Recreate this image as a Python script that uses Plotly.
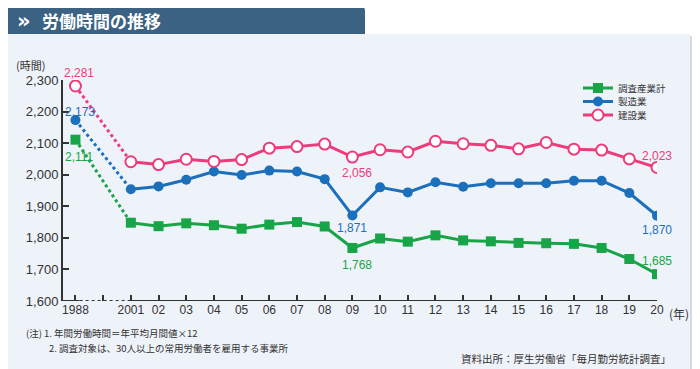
import plotly.graph_objects as go

# ---- data ----
years = ['1988', '2001', '02', '03', '04', '05', '06', '07', '08', '09', '10',
         '11', '12', '13', '14', '15', '16', '17', '18', '19', '20']
tick_labels = ['1988', ''] + years[1:]
total = [2111, 1848, 1837, 1846, 1840, 1829, 1842, 1850, 1836, 1768, 1798,
         1788, 1808, 1792, 1789, 1784, 1783, 1781, 1768, 1733, 1685]
manufacturing = [2173, 1954, 1963, 1984, 2010, 1999, 2013, 2010, 1986, 1871, 1960,
                 1944, 1976, 1962, 1973, 1973, 1973, 1981, 1981, 1942, 1870]
construction = [2281, 2041, 2032, 2049, 2042, 2048, 2084, 2089, 2097, 2056, 2079,
                2072, 2106, 2098, 2093, 2082, 2102, 2081, 2078, 2050, 2023]
names = ['調査産業計', '製造業', '建設業']
y_ticks = [1600, 1700, 1800, 1900, 2000, 2100, 2200, 2300]

# axis positions: 1988 at 0, one blank slot, then 2001.. at 2..21
x_pos = [0] + list(range(2, 2 + len(years) - 1))

GREEN = '#17a548'
BLUE = '#1c6fbb'
PINK = '#ee3b7c'
TXT = '#333333'
NUMFONT = 'Liberation Sans, Arial, Noto Sans CJK JP'
JPFONT = 'Noto Sans CJK JP'

# the page body has an 8px margin, so the figure is drawn 8px in from the corner
OFF = 8
W, H = 700 - OFF, 369 - OFF
PL, PR, PT, PB = 63, 657, 80, 301          # plot area in window pixels
L, R, T, B = PL - OFF, W - (PR - OFF), PT - OFF, H - (PB - OFF)


def px(x):
    return (x - PL) / (PR - PL)


def py(y):
    return (PB - y) / (PB - PT)


fig = go.Figure()

series = [
    (names[0], total, GREEN, dict(symbol='square', size=10, color=GREEN)),
    (names[1], manufacturing, BLUE, dict(symbol='circle', size=10, color=BLUE)),
    (names[2], construction, PINK, dict(symbol='circle', size=11, color='white',
                                         line=dict(color=PINK, width=2))),
]
legend_ids = ['legend', 'legend2', 'legend3']

for (name, vals, col, mk), lid in zip(series, legend_ids):
    fig.add_trace(go.Scatter(x=x_pos[:2], y=vals[:2], mode='lines',
                             line=dict(color=col, width=3, dash='dot'),
                             showlegend=False, hoverinfo='skip'))
    fig.add_trace(go.Scatter(x=x_pos[1:], y=vals[1:], mode='lines+markers',
                             line=dict(color=col, width=3), marker=mk,
                             name=name, showlegend=True, legend=lid))
    fig.add_trace(go.Scatter(x=x_pos[:1], y=vals[:1], mode='markers', marker=mk,
                             showlegend=False))


# data labels (anchored to data points)
def lab(i, vals, col, xs, ys):
    fig.add_annotation(x=x_pos[i], y=vals[i], text=f'{vals[i]:,}', showarrow=False,
                       xshift=xs, yshift=ys,
                       font=dict(family=NUMFONT, size=12, color=col))


lab(0, construction, PINK, 4, 13)
lab(0, manufacturing, BLUE, 5, 8)
lab(0, total, GREEN, 4, -17)
i09 = years.index('09')
lab(i09, construction, PINK, 5, -16)
lab(i09, manufacturing, BLUE, 0, -13)
lab(i09, total, GREEN, 5, -17)
lab(len(years) - 1, construction, PINK, 0, 11)
lab(len(years) - 1, manufacturing, BLUE, 0, -14)
lab(len(years) - 1, total, GREEN, 0, 13)

shapes = []
# panel background
shapes.append(dict(type='rect', xref='paper', yref='paper', x0=px(7), x1=px(690),
                   y0=py(34), y1=py(375), fillcolor='#eef2f9', line=dict(width=0),
                   layer='below'))
shapes.append(dict(type='line', xref='paper', yref='paper', x0=px(691), x1=px(691),
                   y0=py(36), y1=py(375), line=dict(color='#d6d9de', width=2),
                   layer='below'))
# title banner with rounded top corners
x0, x1, y0, y1 = px(7), px(365), py(6), py(34)
rx = 5 / (PR - PL)
ry = 5 / (PB - PT)
shapes.append(dict(type='path', xref='paper', yref='paper',
                   path=(f'M {x0},{y1} L {x0},{y0 - ry} Q {x0},{y0} {x0 + rx},{y0} '
                         f'L {x1 - rx},{y0} Q {x1},{y0} {x1},{y0 - ry} L {x1},{y1} Z'),
                   fillcolor='#3b6283', line=dict(width=0), layer='below'))
# x axis line: solid, dotted across the break, solid
shapes.append(dict(type='line', xref='x', yref='y', x0=-0.45, x1=0.15, y0=1600, y1=1600,
                   line=dict(color=TXT, width=2)))
shapes.append(dict(type='line', xref='x', yref='y', x0=0.15, x1=1.9, y0=1600, y1=1600,
                   line=dict(color=TXT, width=2, dash='dot')))
shapes.append(dict(type='line', xref='x', yref='y', x0=1.9, x1=x_pos[-1], y0=1600, y1=1600,
                   line=dict(color=TXT, width=2)))

ann = [
    dict(x=px(15), y=py(21), text='<b>»</b>', font=dict(family='DejaVu Sans', size=21, color='white'),
         xanchor='left', yanchor='middle'),
    dict(x=px(40), y=py(20), text='<b>労働時間の推移</b>', font=dict(family=JPFONT, size=17, color='white'),
         xanchor='left', yanchor='middle'),
    dict(x=px(14), y=py(65), text='(時間)', font=dict(family=JPFONT, size=11, color=TXT),
         xanchor='left', yanchor='middle'),
    dict(x=px(667), y=py(313), text='(年)', font=dict(family=JPFONT, size=12, color=TXT),
         xanchor='left', yanchor='middle'),
    dict(x=px(24), y=py(333), text='(注) 1. 年間労働時間＝年平均月間値×12',
         font=dict(family=JPFONT, size=9.5, color=TXT), xanchor='left', yanchor='middle'),
    dict(x=px(47), y=py(348), text='2. 調査対象は、30人以上の常用労働者を雇用する事業所',
         font=dict(family=JPFONT, size=9.5, color=TXT), xanchor='left', yanchor='middle'),
    dict(x=px(673), y=py(358), text='資料出所：厚生労働省「毎月勤労統計調査」',
         font=dict(family=JPFONT, size=10.5, color=TXT), xanchor='right', yanchor='middle'),
]
for a in ann:
    a.update(xref='paper', yref='paper', showarrow=False)
    fig.add_annotation(**a)

leg_common = dict(xanchor='left', yanchor='middle',
                  font=dict(family=JPFONT, size=9.5, color=TXT),
                  bgcolor='rgba(0,0,0,0)', itemwidth=30, borderwidth=0)
legend_y = [88, 101.5, 115]

fig.update_layout(
    width=W, height=H,
    margin=dict(l=L, r=R, t=T, b=B),
    paper_bgcolor='white', plot_bgcolor='rgba(0,0,0,0)',
    shapes=shapes,
    showlegend=True,
    legend=dict(x=px(578), y=py(legend_y[0]), **leg_common),
    legend2=dict(x=px(578), y=py(legend_y[1]), **leg_common),
    legend3=dict(x=px(578), y=py(legend_y[2]), **leg_common),
    xaxis=dict(range=[-0.45, x_pos[-1]], tickmode='array',
               tickvals=list(range(len(tick_labels))), ticktext=tick_labels,
               ticks='inside', ticklen=6, tickwidth=1.5, tickcolor=TXT,
               showgrid=False, zeroline=False, showline=False,
               tickfont=dict(family=NUMFONT, size=12, color=TXT)),
    yaxis=dict(range=[1600, 2300], tickmode='array', tickvals=y_ticks,
               ticktext=[f'{v:,}' for v in y_ticks],
               ticks='inside', ticklen=6, tickwidth=1.5, tickcolor=TXT,
               showgrid=False, zeroline=False, showline=True, linecolor=TXT, linewidth=2,
               tickfont=dict(family=NUMFONT, size=13, color=TXT)),
)

fig.write_html('out.html')
